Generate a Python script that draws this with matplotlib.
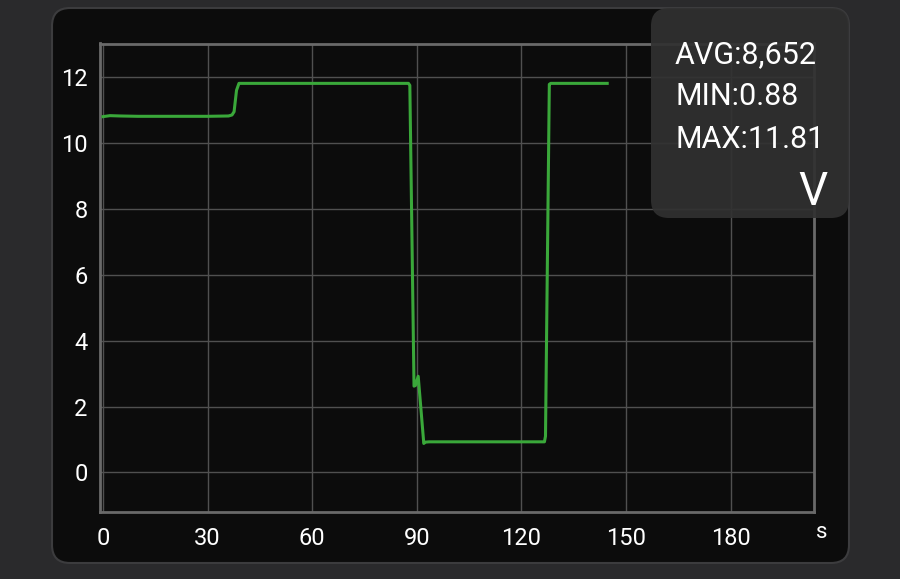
import matplotlib
matplotlib.use("Agg")
import matplotlib.pyplot as plt
from matplotlib.patches import FancyBboxPatch

# ---- data ----
time_s = [0, 2, 5, 10, 20, 30, 36.0, 37.0, 37.6, 38.3, 39.0, 50, 70, 87.6, 88.0,
          89.2, 89.6, 90.4, 92.0, 92.4, 93.5, 100, 110, 120, 126.6, 126.9,
          128.0, 128.4, 135, 144.6]
volts = [10.80, 10.83, 10.82, 10.81, 10.81, 10.81, 10.82, 10.85, 10.95, 11.6, 11.81,
         11.81, 11.81, 11.81, 11.75,
         2.62, 2.64, 2.92, 0.88, 0.92, 0.93, 0.93, 0.93, 0.93, 0.93, 1.1,
         11.78, 11.81, 11.81, 11.81]
x_ticks = [0, 30, 60, 90, 120, 150, 180]
y_ticks = [0, 2, 4, 6, 8, 10, 12]
stats = ["AVG:8,652", "MIN:0.88", "MAX:11.81"]
unit = "V"
x_unit = "s"

W, H = 900, 579
plt.rcParams['font.family'] = ['Roboto', 'DejaVu Sans']
fig = plt.figure(figsize=(W / 100, H / 100), dpi=100)
fig.patch.set_facecolor('#2a2a2c')

def fx(px):
    return px / W

def fy(py):
    return 1 - py / H

# panel
panel = FancyBboxPatch((fx(52), fy(563)), fx(849) - fx(52), fy(8) - fy(563),
                       boxstyle="round,pad=0,rounding_size=0.02",
                       transform=fig.transFigure, facecolor='#0c0c0c',
                       edgecolor='#3c3c3e', linewidth=1.5, zorder=-1,
                       mutation_aspect=W / H)
fig.patches.append(panel)

ax = fig.add_axes([fx(100), fy(512), fx(814) - fx(100), fy(43.5) - fy(512)])
ax.set_zorder(1)
ax.set_facecolor('#0c0c0c')
ax.plot(time_s, volts, color='#3aa83a', linewidth=2.2, solid_joinstyle='round', zorder=3)
ax.set_xlim(-0.85, 203.9)
ax.set_ylim(-1.2, 13.02)
ax.set_xticks(x_ticks)
ax.set_yticks(y_ticks)
ax.set_xticklabels([str(v) for v in x_ticks])
ax.set_yticklabels([str(v) for v in y_ticks])
ax.grid(True, color='#505050', linewidth=1.0)
ax.tick_params(axis='both', length=0, colors='white', labelsize=17)
ax.tick_params(axis='y', pad=9)
ax.tick_params(axis='x', pad=11)
for s in ax.spines.values():
    s.set_color('#6a6a6a')
    s.set_linewidth(2)

fig.text(fx(822), fy(532), x_unit, color='white', fontsize=16, ha='center', va='center')

# info box
box = FancyBboxPatch((fx(651), fy(218)), fx(849) - fx(651), fy(8) - fy(218),
                     boxstyle="round,pad=0,rounding_size=0.02",
                     transform=fig.transFigure, facecolor='#313131', alpha=0.92,
                     edgecolor='none', zorder=5, mutation_aspect=W / H)
fig.patches.append(box)
for txt, base in zip(stats, [63, 105, 148]):
    fig.text(fx(675), fy(base), txt, color='white', fontsize=22, ha='left',
             va='baseline', zorder=6)
fig.text(fx(828), fy(205), unit, color='white', fontsize=33, ha='right',
         va='baseline', zorder=6)

fig.savefig('out.png', dpi=100, facecolor=fig.get_facecolor())
